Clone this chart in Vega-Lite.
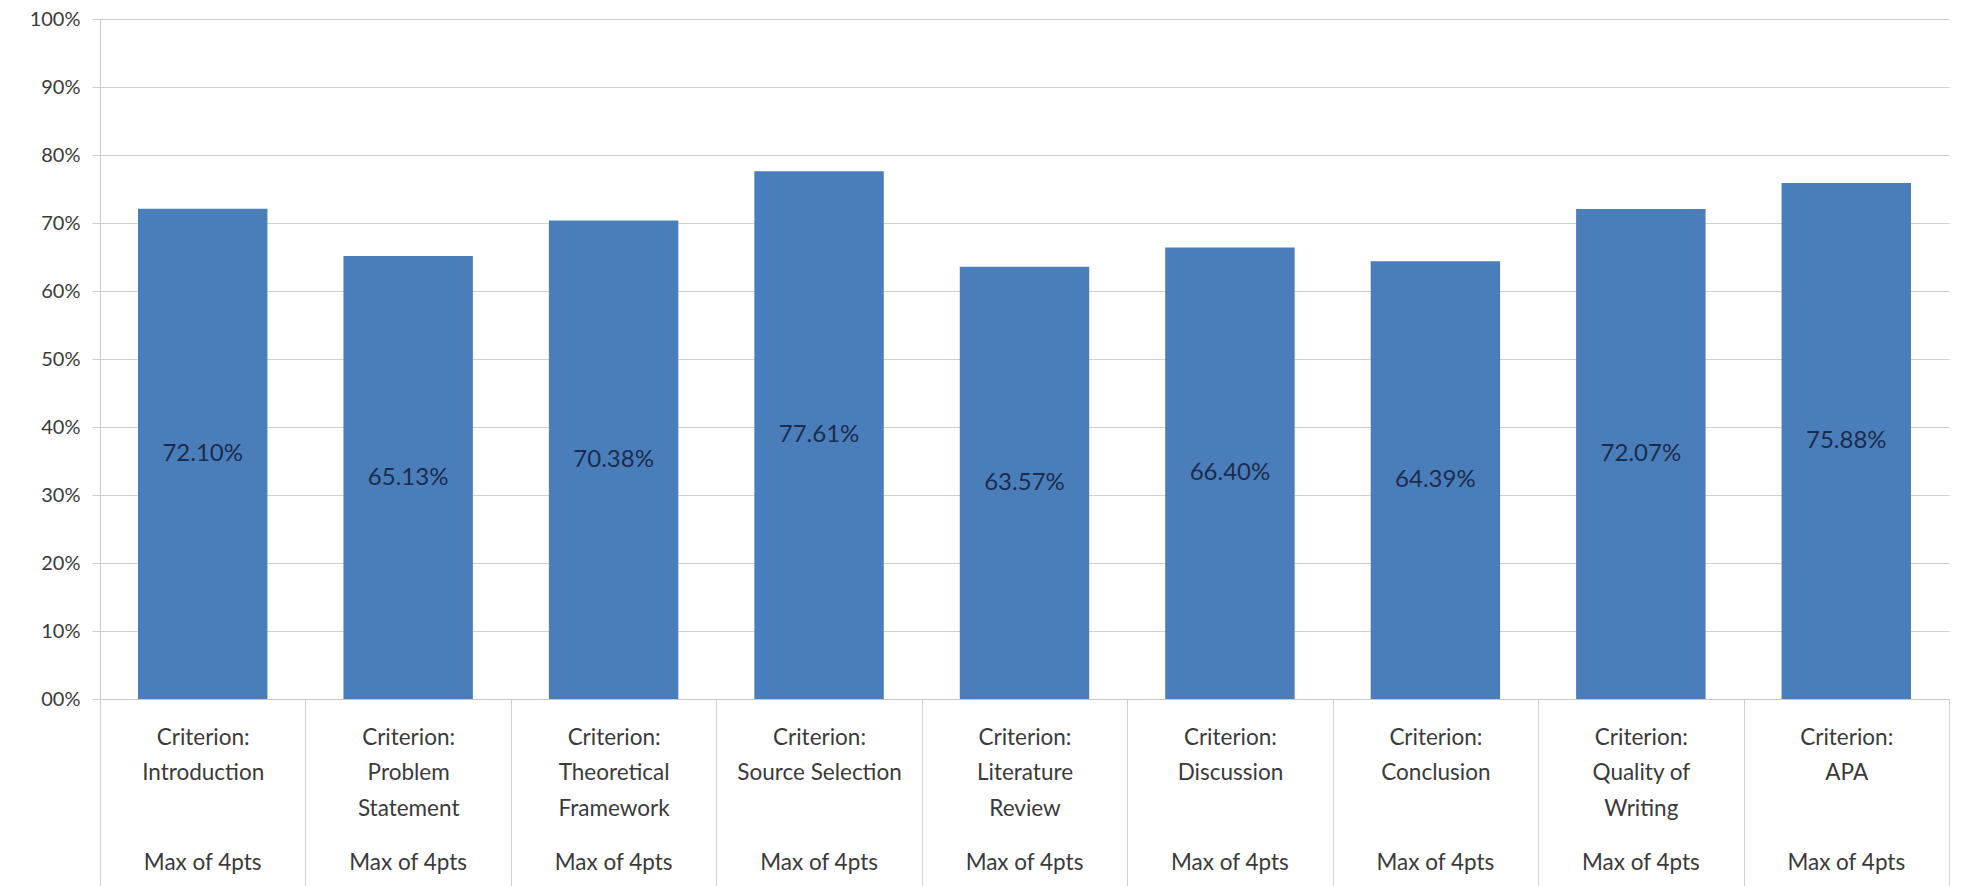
{
  "$schema": "https://vega.github.io/schema/vega-lite/v6.json",
  "width": 1849,
  "height": 680,
  "autosize": {"type": "none"},
  "padding": {"left": 100, "top": 19, "right": 25, "bottom": 187},
  "background": "white",
  "config": {"view": {"stroke": null}, "font": "Lato"},
  "data": {
    "values": [
      {"criterion": "Criterion:|Introduction", "score": 0.7210},
      {"criterion": "Criterion:|Problem|Statement", "score": 0.6513},
      {"criterion": "Criterion:|Theoretical|Framework", "score": 0.7038},
      {"criterion": "Criterion:|Source Selection", "score": 0.7761},
      {"criterion": "Criterion:|Literature|Review", "score": 0.6357},
      {"criterion": "Criterion:|Discussion", "score": 0.6640},
      {"criterion": "Criterion:|Conclusion", "score": 0.6439},
      {"criterion": "Criterion:|Quality of|Writing", "score": 0.7207},
      {"criterion": "Criterion:|APA", "score": 0.7588}
    ]
  },
  "layer": [
    {
      "mark": {"type": "bar", "color": "#4a7ebb", "width": {"band": 0.63}},
      "encoding": {
        "x": {
          "field": "criterion",
          "type": "nominal",
          "sort": null,
          "scale": {"paddingInner": 0, "paddingOuter": 0},
          "axis": {
            "title": null,
            "labelAngle": 0,
            "tickBand": "extent",
            "ticks": true,
            "tickSize": 187,
            "tickColor": "#d0d0d0",
            "domainColor": "#c8c8c8",
            "labelPadding": -160,
            "labelBaseline": "top",
            "labelFontSize": 22.5,
            "labelLineHeight": 35.5,
            "labelColor": "#3a3a3a",
            "labelLimit": 0,
            "labelOverlap": false,
            "labelExpr": "isValid(datum.value) ? split(datum.value, '|') : ''"
          }
        },
        "y": {
          "field": "score",
          "type": "quantitative",
          "scale": {"domain": [0, 1]},
          "axis": {
            "title": null,
            "values": [0, 0.1, 0.2, 0.3, 0.4, 0.5, 0.6, 0.7, 0.8, 0.9, 1],
            "labelExpr": "datum.value == 0 ? '00%' : format(datum.value, '.0%')",
            "grid": true,
            "gridColor": "#d0d0d0",
            "tickSize": 8,
            "tickColor": "#d0d0d0",
            "domainColor": "#c8c8c8",
            "labelFontSize": 20,
            "labelColor": "#3a3a3a",
            "labelPadding": 12
          }
        }
      }
    },
    {
      "mark": {"type": "text", "fontSize": 24, "color": "#1b2c4d", "baseline": "middle", "align": "center"},
      "encoding": {
        "x": {
          "field": "criterion",
          "type": "nominal",
          "sort": null,
          "axis": {
            "orient": "top",
            "title": null,
            "labelAngle": 0,
            "domain": false,
            "ticks": false,
            "grid": false,
            "labelPadding": -843,
            "labelBaseline": "middle",
            "labelFontSize": 22.5,
            "labelColor": "#3a3a3a",
            "labelLimit": 0,
            "labelOverlap": false,
            "labelExpr": "'Max of 4pts'"
          }
        },
        "y": {
          "field": "score",
          "type": "quantitative",
          "scale": {"domain": [0, 2]},
          "axis": null
        },
        "text": {"field": "score", "type": "quantitative", "format": ".2%"}
      }
    }
  ],
  "resolve": {"scale": {"y": "independent"}, "axis": {"x": "independent"}}
}
